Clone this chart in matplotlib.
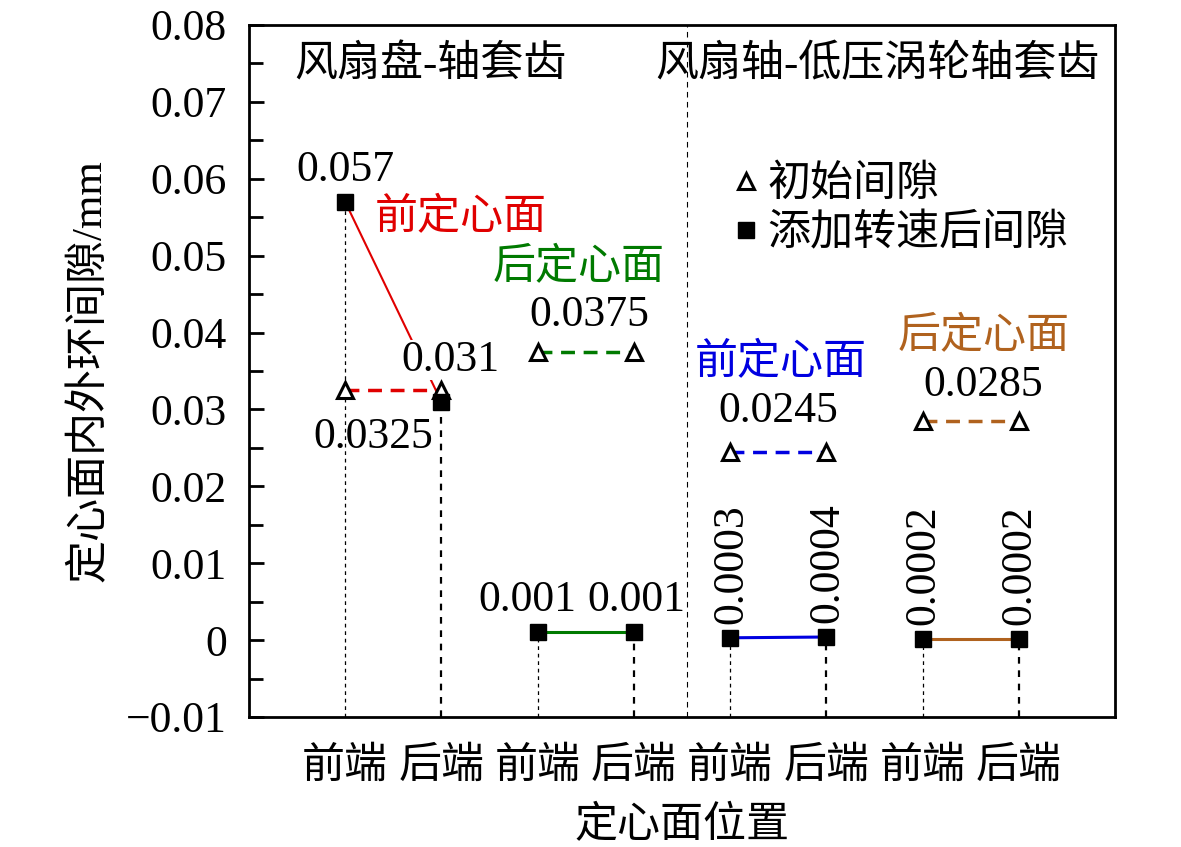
import numpy as np
import matplotlib
matplotlib.use('Agg')
import matplotlib.pyplot as plt
from matplotlib.ticker import MultipleLocator, FuncFormatter
from matplotlib.lines import Line2D

plt.rcParams['font.family'] = ['Liberation Serif', 'Noto Sans CJK SC']
plt.rcParams['axes.unicode_minus'] = True

# data
positions = [1, 2, 3, 4, 5, 6, 7, 8]
pos_labels = ['前端', '后端', '前端', '后端', '前端', '后端', '前端', '后端']
initial_gap = [0.0325, 0.0325, 0.0375, 0.0375, 0.0245, 0.0245, 0.0285, 0.0285]
speed_gap = [0.057, 0.031, 0.001, 0.001, 0.0003, 0.0004, 0.0002, 0.0002]
group_colors = ['#E00000', '#007A00', '#0000E0', '#B0621E']
group_names = ['前定心面', '后定心面', '前定心面', '后定心面']

fig = plt.figure(figsize=(11.81, 8.47), dpi=100)
ax = fig.add_axes([0.2108, 0.1535, 0.7333, 0.8170])

# drop lines from each square to the bottom
for i, (x, v) in enumerate(zip(positions, speed_gap)):
    lw = 0.9 if i % 2 == 0 else 1.6
    ax.plot([x, x], [-0.01, v], color='k', lw=lw, ls=(0, (3, 3)), zorder=1)

for g in range(4):
    xs = positions[2 * g:2 * g + 2]
    ax.plot(xs, initial_gap[2 * g:2 * g + 2], color=group_colors[g], lw=2.5,
            ls=(0, (4, 2.5)), zorder=2)
    ax.plot(xs, speed_gap[2 * g:2 * g + 2], color=group_colors[g],
            lw=1.5 if g == 0 else 2.2, zorder=2)

ax.plot(positions, initial_gap, ls='none', marker='^', ms=12, mfc='white',
        mec='k', mew=2.2, zorder=3)
ax.plot(positions, speed_gap, ls='none', marker='s', ms=11, color='k', zorder=3)

# divider between the two assemblies
ax.axvline(4.55, color='k', lw=0.8, ls=(0, (5, 4)), zorder=1)

fs = 31.5
def lab(txt, x, y, dx, dy, **kw):
    ax.annotate(txt, xy=(x, y), xytext=(dx, dy), textcoords='offset pixels',
                ha='center', va='center', fontsize=fs, **kw)

lab('0.057', positions[0], speed_gap[0], 0, 32)
lab('0.031', positions[1], speed_gap[1], 9, 42, zorder=2.5,
    bbox=dict(boxstyle='square,pad=0', fc='white', ec='none'))
lab('0.0325', positions[0], initial_gap[0], 28, -47)
lab('0.0375', 3.5, initial_gap[2], 4, 37)
lab('0.001', positions[2], speed_gap[2], -10, 32)
lab('0.001', positions[3], speed_gap[3], 3, 32)
lab('0.0245', 5.5, initial_gap[4], 0, 41)
lab('0.0285', 7.5, initial_gap[6], 13, 36)
for x, v in zip(positions[4:], speed_gap[4:]):
    ax.annotate('%.4f' % v, xy=(x, v), xytext=(1, 14),
                textcoords='offset pixels', ha='center', va='bottom',
                rotation=90, fontsize=fs)

name_xy = [(2.2, 0.0549), (3.43, 0.0484), (5.53, 0.0360), (7.63, 0.0394)]
for g in range(4):
    ax.text(name_xy[g][0], name_xy[g][1], group_names[g], color=group_colors[g],
            ha='center', va='center', fontsize=31)

ax.text(0.209, 0.942, '风扇盘-轴套齿', transform=ax.transAxes, ha='center',
        va='center', fontsize=31)
ax.text(0.726, 0.942, '风扇轴-低压涡轮轴套齿', transform=ax.transAxes, ha='center',
        va='center', fontsize=31)

handles = [Line2D([], [], ls='none', marker='^', ms=12, mfc='white', mec='k', mew=2.2),
           Line2D([], [], ls='none', marker='s', ms=11, color='k')]
ax.legend(handles, ['初始间隙', '添加转速后间隙'], loc='upper left',
          bbox_to_anchor=(0.559, 0.797), frameon=False, fontsize=31,
          handlelength=0.6, handletextpad=0.2, labelspacing=0.2, borderpad=0,
          borderaxespad=0)

ax.set_xlim(0, 9)
ax.set_ylim(-0.01, 0.08)
ax.set_xticks(positions)
ax.set_xticklabels(pos_labels, fontsize=31)
ax.tick_params(axis='x', length=0, pad=22)
ax.yaxis.set_major_locator(MultipleLocator(0.01))
ax.yaxis.set_minor_locator(MultipleLocator(0.005))
ax.yaxis.set_major_formatter(FuncFormatter(lambda v, p: ('%g' % round(v, 4)).replace('-', '\u2212')))
ax.tick_params(axis='y', which='both', direction='in', labelsize=fs, width=2, pad=16)
ax.tick_params(axis='y', which='major', length=11)
ax.tick_params(axis='y', which='minor', length=10)
for s in ax.spines.values():
    s.set_linewidth(2)

ax.set_xlabel('定心面位置', fontsize=31, labelpad=14)
ax.set_ylabel('定心面内外环间隙/mm', fontsize=31, labelpad=12)

fig.savefig('out.png', dpi=100)
